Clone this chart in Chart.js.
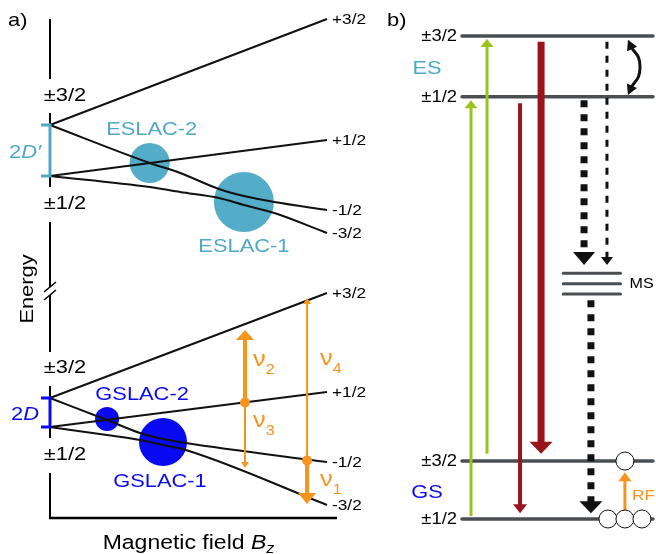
<!DOCTYPE html>
<html>
<head>
<meta charset="utf-8">
<script src="https://cdn.jsdelivr.net/npm/chart.js@4.4.0/dist/chart.umd.min.js"></script>
<style>
  html, body { margin: 0; padding: 0; background: #fff; }
  #wrap { position: relative; width: 656px; height: 554px; }
  #wrap canvas { position: absolute; top: 0; }
  #panelA { left: 0; }
  #panelB { left: 380px; }
</style>
</head>
<body>
<div id="wrap">
  <canvas id="panelA" width="380" height="554"></canvas>
  <canvas id="panelB" width="276" height="554"></canvas>
</div>
<script>
// ---------- panel a: energy (a.u.) vs magnetic field (0..1) ----------
const bField = [0, 1];
const esZero = [78.6, 68.4];            // ±3/2, ±1/2 at zero field (excited state)
const gsZero = [24.0, 18.2];            // ±3/2, ±1/2 at zero field (ground state)
const esPlus32 = [78.6, 99.8];
const esPlus12 = [68.4, 75.6];
const bEsCross = [0, 0.36, 0.47, 0.61, 0.70, 0.81, 1];
const esMinus12 = [78.6, 71.0, 69.0, 65.8, 64.4, 63.2, 61.6];
const esMinus32 = [68.4, 66.2, 65.2, 64.0, 62.6, 61.0, 57.0];
const gsPlus32 = [24.0, 45.0];
const gsPlus12 = [18.2, 25.2];
const bGsCross = [0, 0.206, 0.325, 0.408, 0.49, 1];
const gsMinus12 = [24.0, 19.6, 17.0, 15.8, 15.0, 11.2];
const gsMinus32 = [18.2, 16.6, 15.6, 14.6, 13.6, 2.6];
const stateLabels = ['+3/2', '+1/2', '-1/2', '-3/2'];
const axisBreak = 45.4;

const lacNames = ['ESLAC-2', 'ESLAC-1', 'GSLAC-2', 'GSLAC-1'];
const lacB = [0.36, 0.70, 0.206, 0.408];
const lacE = [71.0, 63.2, 19.8, 15.2];

const nuNames = ['2', '3', '4', '1'];
const nuB = [0.704, 0.704, 0.928, 0.928];
const nuFrom = [23.1, 23.1, 11.5, 11.5];
const nuTo = [37.6, 10.0, 44.0, 2.8];

// ---------- panel b: level scheme ----------
const levelNames = ['±3/2', '±1/2', '±3/2', '±1/2'];
const levelE = [100, 87.4, 12.0, 0];
const msE = [50.9, 48.7, 46.6];
const msX = [5.3, 8.3];
const pumpX = [0.47, 1.31], pumpFrom = [0.6, 13.5], pumpTo = [86.7, 99.4];
const emitX = [3.04, 4.14], emitFrom = [86.1, 98.8], emitTo = [1.2, 13.5];
const iscX = [6.39, 7.59, 6.75], iscFrom = [86.7, 98.8, 45.3], iscTo = [52.6, 52.6, 1.2];
const rfX = 8.53, rfFrom = 0, rfTo = 9.7;
const popX = [7.64, 8.53, 9.42, 8.53];
const popE = [0, 0, 0, 12.0];
const mixX = [8.69, 9.32, 8.69];
const mixE = [99.2, 93.6, 87.8];

const FONT = '"Liberation Sans", Arial, sans-serif';
const SX = 1.15;   // text in the figure is a bit wide
const teal = '#4fa9c6', blue = '#0a0af0', orange = '#f7941d', ink = '#111';

function pts(xs, ys) { return xs.map((x, i) => ({ x: x, y: ys[i] })); }

function text(ctx, s, x, y, size, color, align, style) {
  ctx.save();
  ctx.font = (style || '') + ' ' + size + 'px ' + FONT;
  ctx.fillStyle = color;
  ctx.textAlign = align || 'center';
  ctx.textBaseline = 'middle';
  ctx.translate(x, y);
  ctx.scale(SX, 1);
  ctx.fillText(s, 0, 0);
  ctx.restore();
}

// several runs of text on one baseline (italics, subscripts)
function runs(ctx, parts, x, y, color, align) {
  ctx.save();
  ctx.fillStyle = color;
  ctx.textBaseline = 'alphabetic';
  ctx.textAlign = 'left';
  let w = 0;
  parts.forEach(p => {
    ctx.font = (p.style || '') + ' ' + p.size + 'px ' + FONT;
    p.w = ctx.measureText(p.t).width * SX;
    w += p.w;
  });
  let cx = align === 'center' ? x - w / 2 : align === 'right' ? x - w : x;
  parts.forEach(p => {
    ctx.font = (p.style || '') + ' ' + p.size + 'px ' + FONT;
    ctx.save();
    ctx.translate(cx, y + (p.dy || 0));
    ctx.scale(SX, 1);
    ctx.fillText(p.t, 0, 0);
    ctx.restore();
    cx += p.w;
  });
  ctx.restore();
}

// arrow heads at the end of datasets that have a "head" entry
const arrowHeads = {
  id: 'arrowHeads',
  beforeDatasetsDraw(chart) {
    chart.data.datasets.forEach((ds, i) => {
      if (!ds.head) return;
      const meta = chart.getDatasetMeta(i);
      const p = meta.data, n = p.length;
      const ends = [[n - 1, n - 2]];
      if (ds.head.both) ends.push([0, 1]);
      meta.$heads = ends.map(([a, b]) => {
        const tip = { x: p[a].x, y: p[a].y };
        const dx = tip.x - p[b].x, dy = tip.y - p[b].y;
        const len = Math.hypot(dx, dy) || 1;
        const u = { x: dx / len, y: dy / len };
        p[a].x = tip.x - u.x * ds.head.h * 0.7;
        p[a].y = tip.y - u.y * ds.head.h * 0.7;
        return { tip, u };
      });
    });
  },
  afterDatasetsDraw(chart) {
    const ctx = chart.ctx;
    chart.data.datasets.forEach((ds, i) => {
      const meta = chart.getDatasetMeta(i);
      if (!ds.head || !meta.$heads) return;
      meta.$heads.forEach(({ tip, u }) => {
        const bx = tip.x - u.x * ds.head.h, by = tip.y - u.y * ds.head.h;
        const hw = ds.head.w / 2;
        ctx.save();
        ctx.fillStyle = ds.borderColor;
        ctx.beginPath();
        ctx.moveTo(tip.x, tip.y);
        ctx.lineTo(bx - u.y * hw, by + u.x * hw);
        ctx.lineTo(bx + u.y * hw, by - u.x * hw);
        ctx.closePath();
        ctx.fill();
        ctx.restore();
      });
    });
  }
};

function line(xs, ys, extra) {
  return Object.assign({
    data: pts(xs, ys), showLine: true, borderColor: ink, borderWidth: 2,
    pointRadius: 0, fill: false, clip: false, order: 5
  }, extra || {});
}

function arrow(x, from, to, color, width, head, extra) {
  return Object.assign({
    data: [{ x: x, y: from }, { x: x, y: to }], showLine: true, borderColor: color,
    borderWidth: width, borderCapStyle: 'butt', pointRadius: 0, fill: false, clip: false,
    order: 2, head: head
  }, extra || {});
}

// ---------- chart a ----------
const curve = { cubicInterpolationMode: 'monotone' };
const nuArrowStyle = [
  { w: 4, head: { w: 18, h: 10 } },
  { w: 2, head: { w: 8, h: 6 } },
  { w: 2, head: { w: 8, h: 6 } },
  { w: 4, head: { w: 18, h: 11 } }
];

const panelA = {
  id: 'panelA',
  afterDraw(chart) {
    const ctx = chart.ctx, area = chart.chartArea;
    const y = v => chart.scales.y.getPixelForValue(v);
    const x = v => chart.scales.x.getPixelForValue(v);
    const ax = area.left;
    ctx.save();
    // energy axis with gaps for labels and a break
    ctx.strokeStyle = '#000';
    ctx.lineWidth = 2;
    const b = y(axisBreak);
    const segs = [
      [area.top + 1, y(esZero[0]) - 46], [y(esZero[0]) - 12, y(esZero[1]) + 11],
      [y(esZero[1]) + 46, b - 4], [b + 4, y(gsZero[0]) - 46],
      [y(gsZero[0]) - 12, y(gsZero[1]) + 11], [y(gsZero[1]) + 46, area.bottom]
    ];
    ctx.beginPath();
    segs.forEach(([a, c]) => { ctx.moveTo(ax, a); ctx.lineTo(ax, c); });
    ctx.stroke();
    ctx.lineWidth = 1.5;
    ctx.beginPath();
    [b - 4, b + 4].forEach(c => { ctx.moveTo(ax - 6, c + 5); ctx.lineTo(ax + 6, c - 5); });
    ctx.stroke();
    // field axis
    ctx.lineWidth = 2.5;
    ctx.beginPath();
    ctx.moveTo(ax - 1, area.bottom);
    ctx.lineTo(area.right + 10, area.bottom);
    ctx.stroke();
    // zero-field splitting brackets
    [[esZero, teal], [gsZero, blue]].forEach(([z, col]) => {
      ctx.strokeStyle = col;
      ctx.lineWidth = 3;
      ctx.beginPath();
      ctx.moveTo(ax - 9, y(z[0])); ctx.lineTo(ax + 1.5, y(z[0]));
      ctx.moveTo(ax, y(z[0])); ctx.lineTo(ax, y(z[1]));
      ctx.moveTo(ax - 9, y(z[1])); ctx.lineTo(ax + 1.5, y(z[1]));
      ctx.stroke();
    });
    ctx.restore();

    // zero-field labels
    text(ctx, '±3/2', ax + 15, y(esZero[0]) - 29, 19, '#000');
    text(ctx, '±1/2', ax + 15, y(esZero[1]) + 28, 19, '#000');
    text(ctx, '±3/2', ax + 15, y(gsZero[0]) - 30, 19, '#000');
    text(ctx, '±1/2', ax + 15, y(gsZero[1]) + 28, 19, '#000');
    const zmid = z => (y(z[0]) + y(z[1])) / 2;
    runs(ctx, [{ t: '2', size: 19 }, { t: 'D′', size: 19, style: 'italic' }], ax - 25, zmid(esZero) + 7, teal, 'center');
    runs(ctx, [{ t: '2', size: 19 }, { t: 'D', size: 19, style: 'italic' }], ax - 25, zmid(gsZero) + 7, blue, 'center');

    // state labels at the line ends
    const ends = [esPlus32, esPlus12, esMinus12, esMinus32, gsPlus32, gsPlus12, gsMinus12, gsMinus32];
    ends.forEach((s, i) => text(ctx, stateLabels[i % 4], x(1) + 5, y(s[s.length - 1]) + 1, 15, '#000', 'left'));

    // anticrossing labels
    const off = [[2, -33], [0, 45], [35, -24], [-3, 40]];
    lacNames.forEach((n, i) => text(ctx, n, x(lacB[i]) + off[i][0], y(lacE[i]) + off[i][1], 19, i < 2 ? teal : blue));

    // transition labels
    const nuOff = [[8, -37], [8, 24], [13, -96], [13, 25]];
    nuNames.forEach((n, i) => runs(ctx, [{ t: 'ν', size: 22 }, { t: n, size: 14, dy: 8 }],
      x(nuB[i]) + nuOff[i][0], y(nuFrom[i]) + nuOff[i][1], orange, 'left'));

    // axis titles
    ctx.save();
    ctx.translate(28, b - 2);
    ctx.rotate(-Math.PI / 2);
    text(ctx, 'Energy', 0, 0, 19, '#000');
    ctx.restore();
    runs(ctx, [{ t: 'Magnetic field ', size: 20 }, { t: 'B', size: 20, style: 'italic' }, { t: 'z', size: 14, style: 'italic', dy: 4 }],
      (ax + area.right) / 2 + 0, area.bottom + 31, '#000', 'center');
    text(ctx, 'a)', 8, 21, 19, '#000', 'left');
  }
};

new Chart(document.getElementById('panelA'), {
  type: 'scatter',
  data: {
    datasets: [
      line(bField, esPlus32), line(bField, esPlus12),
      line(bEsCross, esMinus12, curve), line(bEsCross, esMinus32, curve),
      line(bField, gsPlus32), line(bField, gsPlus12),
      line(bGsCross, gsMinus12, curve), line(bGsCross, gsMinus32, curve),
      { data: pts(lacB.slice(0, 2), lacE.slice(0, 2)), pointRadius: [20, 30], backgroundColor: '#53acc8',
        borderWidth: 0, clip: false, order: 10 },
      { data: pts(lacB.slice(2), lacE.slice(2)), pointRadius: [12, 24], backgroundColor: blue,
        borderWidth: 0, clip: false, order: 10 },
      ...nuNames.map((n, i) => arrow(nuB[i], nuFrom[i], nuTo[i], orange, nuArrowStyle[i].w, nuArrowStyle[i].head)),
      { data: pts([nuB[0], nuB[2]], [nuFrom[0], nuFrom[2]]), pointRadius: 5, backgroundColor: orange,
        borderWidth: 0, clip: false, order: 1 }
    ]
  },
  options: {
    responsive: false,
    animation: false,
    events: [],
    layout: { autoPadding: false, padding: { left: 50, right: 53, top: 18, bottom: 36 } },
    scales: {
      x: { type: 'linear', min: 0, max: 1, display: false },
      y: { type: 'linear', min: 0, max: 100, display: false }
    },
    plugins: { legend: { display: false }, tooltip: { enabled: false } }
  },
  plugins: [arrowHeads, panelA]
});

// ---------- chart b ----------
const levelGrey = '#4a4f53';
const green = '#9bc31c', red = '#9a141c';

const panelB = {
  id: 'panelB',
  afterDraw(chart) {
    const ctx = chart.ctx, area = chart.chartArea;
    const y = v => chart.scales.y.getPixelForValue(v);
    const x = v => chart.scales.x.getPixelForValue(v);
    levelNames.forEach((n, i) => text(ctx, n, area.left - 5, y(levelE[i]) + 1, 16, '#000', 'right'));
    text(ctx, 'ES', area.left - 35, (y(levelE[0]) + y(levelE[1])) / 2 + 2, 19, teal);
    text(ctx, 'GS', area.left - 35, (y(levelE[2]) + y(levelE[3])) / 2 + 3, 19, blue);
    text(ctx, 'MS', x(msX[1]) + 9, y(msE[1]), 14, '#000', 'left');
    text(ctx, 'RF', x(rfX) + 7, y(rfTo) + 24, 15, orange, 'left');
    text(ctx, 'b)', 7, 21, 19, '#000', 'left');
  }
};

new Chart(document.getElementById('panelB'), {
  type: 'scatter',
  data: {
    datasets: [
      ...levelE.map(e => line([0, 10], [e, e], { borderColor: levelGrey, borderWidth: 3.5, borderCapStyle: 'round', order: 20 })),
      ...msE.map(e => line(msX, [e, e], { borderColor: levelGrey, borderWidth: 3, borderCapStyle: 'round', order: 20 })),
      ...pumpX.map((px, i) => arrow(px, pumpFrom[i], pumpTo[i], green, 3, { w: 13, h: 8 })),
      arrow(emitX[0], emitFrom[0], emitTo[0], red, 4, { w: 14, h: 9 }),
      arrow(emitX[1], emitFrom[1], emitTo[1], red, 7, { w: 23, h: 12 }),
      arrow(iscX[0], iscFrom[0], iscTo[0], '#111', 7, { w: 22, h: 13 }, { borderDash: [7, 7] }),
      arrow(iscX[1], iscFrom[1], iscTo[1], '#111', 3, { w: 12, h: 8 }, { borderDash: [7, 7] }),
      arrow(iscX[2], iscFrom[2], iscTo[2], '#111', 7, { w: 23, h: 12 }, { borderDash: [7, 7] }),
      arrow(rfX, rfFrom, rfTo, orange, 3, { w: 13, h: 9 }),
      Object.assign(line(mixX, mixE, { borderColor: '#111', borderWidth: 3, tension: 0.5, order: 2 }),
        { head: { w: 11, h: 10, both: true } }),
      { data: pts(popX, popE), pointRadius: 9, backgroundColor: '#fff', borderColor: '#111',
        borderWidth: 1, clip: false, order: 1 }
    ]
  },
  options: {
    responsive: false,
    animation: false,
    events: [],
    layout: { autoPadding: false, padding: { left: 82, right: 3, top: 36, bottom: 35 } },
    scales: {
      x: { type: 'linear', min: 0, max: 10, display: false },
      y: { type: 'linear', min: 0, max: 100, display: false }
    },
    plugins: { legend: { display: false }, tooltip: { enabled: false } }
  },
  plugins: [arrowHeads, panelB]
});
</script>
</body>
</html>
